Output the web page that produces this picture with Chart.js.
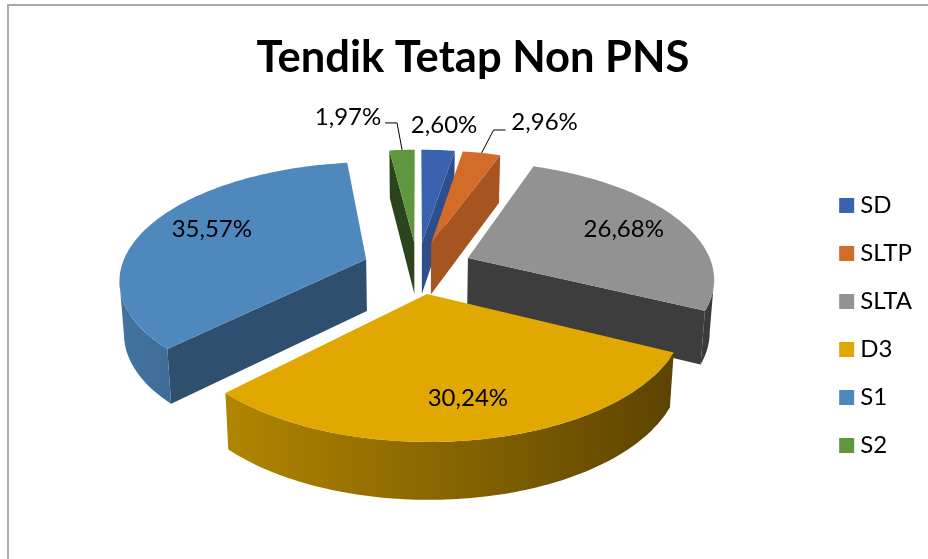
<!DOCTYPE html>
<html>
<head>
<meta charset="utf-8">
<title>Tendik Tetap Non PNS</title>
<script src="https://cdn.jsdelivr.net/npm/chart.js@4"></script>
<style>
html,body{margin:0;padding:0;background:#fff;overflow:hidden}
#wrap{position:relative;width:928px;height:559px}
#frame{position:absolute;left:7px;top:4px;right:0;bottom:0;border-left:2px solid #a9a9a9;border-top:2px solid #a9a9a9}
canvas{position:absolute;left:0;top:0}
</style>
</head>
<body>
<div id="wrap"><div id="frame"></div><canvas id="chart" width="928" height="559"></canvas></div>
<script>
const titleText = 'Tendik Tetap Non PNS';
const categories = ['SD','SLTP','SLTA','D3','S1','S2'];
const percents = [2.60,2.96,26.68,30.24,35.57,1.97];
const colors = ['#3a62ae','#d26c28','#929292','#e0a800','#4f88bd','#5f963e'];
const wallShade = [0.8,0.79,0.42,0.6,0.58,0.45];

// where each value label sits: fraction of radius along the slice middle, then a nudge
const labelRadial = [1,1,0.72,0.76,0.72,1];
const labelNudge = [[6,-25],[63,-31],[3,0],[3,-1],[3,-5],[-54,-33]];
const leaderFrom = [null,[24,-23],null,null,null,[-17,-27]];

const view = {shiftX:-5, shiftY:-58, squash:115, persp:0.159, depth:52};

const $ = (id) => document.getElementById(id);
const fontName = 'Lato, "Open Sans", sans-serif';

function shade(hex,f){
  const n=parseInt(hex.slice(1),16);
  return `rgb(${Math.round((n>>16&255)*f)},${Math.round((n>>8&255)*f)},${Math.round((n&255)*f)})`;
}
function project(arc,X,Y,low){
  const R=arc.outerRadius, t=Y/R, k=1/(1-view.persp*t);
  const cx=arc.x+view.shiftX, cy=arc.y+view.shiftY;
  return {x:cx+X*k*(low?0.985:1), y:cy+view.squash*t*k+(low?view.depth*Math.sqrt(k):0)};
}
function slicePoint(arc,a,r,low){
  const mid=(arc.startAngle+arc.endAngle)/2, off=arc.options.offset;
  return project(arc,Math.cos(mid)*off+Math.cos(a)*r,Math.sin(mid)*off+Math.sin(a)*r,low);
}
function fillPoly(ctx,pts,col){
  ctx.beginPath();
  pts.forEach((p,i)=>i?ctx.lineTo(p.x,p.y):ctx.moveTo(p.x,p.y));
  ctx.closePath();
  ctx.fillStyle=col; ctx.fill();
}
function radialWall(ctx,arc,a,col){
  const R=arc.outerRadius;
  fillPoly(ctx,[slicePoint(arc,a,0),slicePoint(arc,a,R),slicePoint(arc,a,R,true),slicePoint(arc,a,0,true)],col);
}
function sideAngles(arc){
  // angles where the rim turns away from the viewer, left and right
  let right=0, left=Math.PI;
  for(let a=-0.6;a<=Math.PI+0.6;a+=0.01){
    const x=slicePoint(arc,a,arc.outerRadius).x;
    if(x>slicePoint(arc,right,arc.outerRadius).x) right=a;
    if(x<slicePoint(arc,left,arc.outerRadius).x) left=a;
  }
  return {right,left};
}
function rimWall(ctx,arc){
  const R=arc.outerRadius, base=arc.options.backgroundColor, side=sideAngles(arc);
  const s=Math.max(arc.startAngle,side.right), e=Math.min(arc.endAngle,side.left);
  if(e<=s) return;
  const steps=Math.ceil((e-s)/0.02), upper=[], lower=[];
  for(let n=0;n<=steps;n++){
    const a=s+(e-s)*n/steps;
    upper.push(slicePoint(arc,a,R));
    lower.unshift(slicePoint(arc,a,R,true));
  }
  const grad=ctx.createLinearGradient(slicePoint(arc,Math.PI,R).x,0,slicePoint(arc,0,R).x,0);
  grad.addColorStop(0,shade(base,0.84));
  grad.addColorStop(1,shade(base,0.40));
  fillPoly(ctx,upper.concat(lower),grad);
}
function drawSlice(ctx,arc,i){
  const R=arc.outerRadius, s=arc.startAngle, e=arc.endAngle, base=arc.options.backgroundColor;
  const wall=shade(base,wallShade[i]);
  if(Math.cos(s)<0) radialWall(ctx,arc,s,wall);
  if(Math.cos(e)>0) radialWall(ctx,arc,e,wall);
  rimWall(ctx,arc);
  const steps=Math.ceil((e-s)/0.02);
  const top=[slicePoint(arc,s,0)];
  for(let n=0;n<=steps;n++) top.push(slicePoint(arc,s+(e-s)*n/steps,R));
  fillPoly(ctx,top,base);
}

const pie3d = {
  id:'pie3d',
  beforeDatasetDraw(chart,args){
    const ctx=chart.ctx, arcs=chart.getDatasetMeta(args.index).data;
    const order=arcs.map((arc,i)=>i).sort((p,q)=>Math.sin((arcs[p].startAngle+arcs[p].endAngle)/2)-Math.sin((arcs[q].startAngle+arcs[q].endAngle)/2));
    ctx.save();
    order.forEach(i=>drawSlice(ctx,arcs[i],i));
    ctx.font='24px '+fontName;
    ctx.textAlign='center'; ctx.textBaseline='middle';
    arcs.forEach((arc,i)=>{
      const mid=(arc.startAngle+arc.endAngle)/2;
      const p=slicePoint(arc,mid,arc.outerRadius*labelRadial[i]);
      const [dx,dy]=labelNudge[i];
      ctx.fillStyle='#000';
      ctx.fillText(percents[i].toFixed(2).replace('.',',')+'%',p.x+dx,p.y+dy);
      if(leaderFrom[i]){
        const [lx,ly]=leaderFrom[i];
        ctx.beginPath();
        ctx.moveTo(p.x+lx,p.y+ly);
        ctx.lineTo(p.x+lx-Math.sign(lx)*12,p.y+ly);
        ctx.lineTo(p.x,p.y);
        ctx.strokeStyle='#000'; ctx.lineWidth=1; ctx.stroke();
      }
    });
    ctx.restore();
    return false;
  }
};

new Chart($('chart'),{
  type:'pie',
  data:{labels:categories,datasets:[{data:percents,backgroundColor:colors,borderColor:colors,borderWidth:12,offset:55}]},
  options:{
    responsive:false,
    animation:false,
    radius:245,
    layout:{padding:{left:24,right:6,top:0,bottom:0}},
    plugins:{
      title:{display:true,text:titleText,color:'#000',font:{family:fontName,size:43.5,weight:'bold'},padding:{top:32,bottom:8}},
      legend:{position:'right',fullSize:false,labels:{color:'#000',font:{family:fontName,size:24},boxWidth:3,boxHeight:3,padding:24}},
      tooltip:{enabled:false}
    }
  },
  plugins:[pie3d]
});
</script>
</body>
</html>
